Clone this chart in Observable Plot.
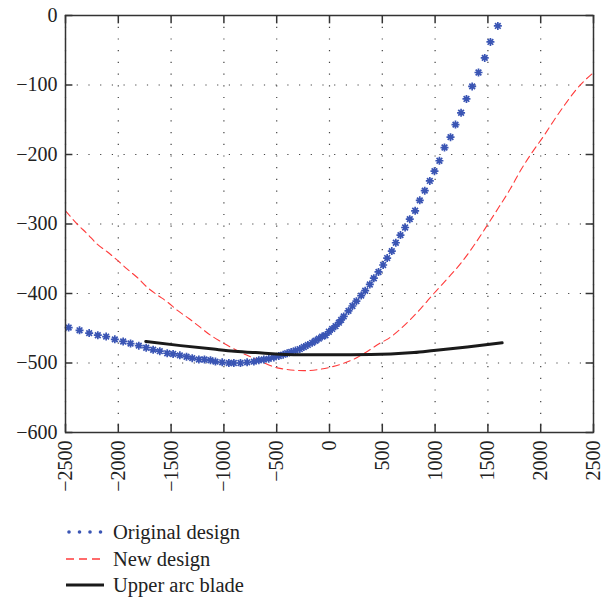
<!DOCTYPE html>
<html>
<head>
<meta charset="utf-8">
<script src="https://cdn.jsdelivr.net/npm/d3@7"></script>
<script src="https://cdn.jsdelivr.net/npm/@observablehq/plot@0.6"></script>
<style>
  html, body { margin: 0; padding: 0; background: #fff; }
  body { width: 602px; height: 601px; overflow: hidden; font-family: "Liberation Serif", "DejaVu Serif", serif; }
  #chart svg { overflow: visible; }
  #legend { margin-left: 66px; margin-top: 14px; font-size: 20.5px; color: #222; line-height: 26.5px; }
  .item { display: flex; align-items: center; }
  .item svg { margin-right: 7px; }
</style>
</head>
<body>
<div id="chart"></div>
<div id="legend"></div>
<script>
const xTicks = [-2500, -2000, -1500, -1000, -500, 0, 500, 1000, 1500, 2000, 2500];
const yTicks = [0, -100, -200, -300, -400, -500, -600];
const seriesNames = ["Original design", "New design", "Upper arc blade"];

const originalX = [-2470,-2367,-2276,-2194,-2115,-2033,-1954,-1884,-1806,-1736,-1670,-1607,-1537,-1481,-1417,-1354,-1300,-1237,-1184,-1127,-1080,-1016,-953,-906,-843,-780,-716,-669,-622,-575,-527,-480,-439,-401,-363,-322,-281,-243,-205,-164,-133,-101,-70,-38,-6,25,57,89,110,135,180,217,255,300,338,382,420,464,508,546,590,628,672,716,760,811,855,902,950,994,1041,1089,1146,1193,1246,1297,1351,1411,1470,1524,1594];
const originalY = [-449,-453,-457,-460,-462,-466,-469,-472,-475,-478,-481,-483,-486,-487,-489,-491,-493,-495,-495,-496,-498,-499,-500,-500,-500,-499,-498,-496,-495,-494,-492,-490,-488,-486,-484,-482,-480,-477,-474,-471,-468,-465,-462,-460,-455,-451,-447,-442,-438,-433,-425,-418,-411,-403,-396,-387,-378,-369,-359,-349,-339,-327,-316,-305,-293,-281,-266,-252,-238,-224,-209,-190,-175,-157,-140,-120,-102,-82,-61,-38,-15];

const newX = [-2500,-2390,-2295,-2200,-2105,-2010,-1915,-1820,-1727,-1632,-1537,-1443,-1332,-1238,-1127,-1030,-938,-780,-670,-495,-243,9,262,372,483,546,672,862,988,1114,1241,1367,1493,1603,1714,1809,1919,2030,2125,2235,2345,2500];
const newY = [-281,-300,-314,-329,-340,-352,-365,-377,-391,-402,-412,-424,-436,-447,-460,-469,-477,-489,-496,-507,-511,-506,-492,-482,-471,-466,-451,-422,-400,-379,-357,-331,-302,-276,-249,-223,-197,-173,-151,-127,-105,-82];

const bladeX = [-1740,-1410,-1100,-900,-700,-275,200,580,800,988,1304,1635];
const bladeY = [-469,-475,-480,-483,-485,-488,-488,-487,-485,-482,-477,-471];

const colors = ["#3a55b4", "#ff3b3b", "#1a1a1a"];

const original = originalX.map((x, i) => ({x, y: originalY[i]}));
const newer = newX.map((x, i) => ({x, y: newY[i]}));
const blade = bladeX.map((x, i) => ({x, y: bladeY[i]}));
const fmt = d => (d < 0 ? "\u2212" + Math.abs(d) : String(d));

// 8-point asterisk marker (like MATLAB '*')
const star8 = {
  draw(context, size) {
    const r = Math.sqrt(size / Math.PI);
    const d = r * Math.SQRT1_2;
    context.moveTo(-r, 0); context.lineTo(r, 0);
    context.moveTo(0, -r); context.lineTo(0, r);
    context.moveTo(-d, -d); context.lineTo(d, d);
    context.moveTo(-d, d); context.lineTo(d, -d);
  }
};

const chart = Plot.plot({
  width: 602,
  height: 505,
  marginTop: 15,
  marginLeft: 65,
  marginRight: 9,
  marginBottom: 73,
  style: {fontFamily: "Liberation Serif, DejaVu Serif, serif", fontSize: "20px", color: "#222", background: "#fff", overflow: "visible"},
  x: {type: "linear", domain: [-2500, 2500], ticks: xTicks},
  y: {type: "linear", domain: [-600, 0], ticks: yTicks},
  marks: [
    Plot.gridX(xTicks, {stroke: "#444", strokeOpacity: 1, strokeWidth: 1.2, strokeDasharray: "1.2,10.5"}),
    Plot.gridY(yTicks, {stroke: "#444", strokeOpacity: 1, strokeWidth: 1.2, strokeDasharray: "1.2,10.5"}),
    Plot.line(newer, {x: "x", y: "y", stroke: colors[1], strokeWidth: 1.1, strokeDasharray: "7,4.5", curve: "monotone-x"}),
    Plot.dot(original, {x: "x", y: "y", symbol: star8, r: 4, stroke: colors[0], strokeWidth: 1.7, fill: "none"}),
    Plot.line(blade, {x: "x", y: "y", stroke: colors[2], strokeWidth: 3, curve: "monotone-x"}),
    Plot.frame({stroke: "#333", strokeWidth: 1.5}),
    Plot.axisX(xTicks, {anchor: "bottom", tickSize: 0, tickPadding: 8, tickRotate: -90, label: null, tickFormat: fmt, fill: "#222"}),
    Plot.axisY(yTicks, {anchor: "left", tickSize: 0, tickPadding: 8, label: null, tickFormat: fmt, fill: "#222"}),
    Plot.ruleX(xTicks, {x: d => d, y1: -600, y2: -588, stroke: "#333", strokeWidth: 1.5}),
    Plot.ruleX(xTicks, {x: d => d, y1: 0, y2: -12, stroke: "#333", strokeWidth: 1.5}),
    Plot.ruleY(yTicks, {y: d => d, x1: -2500, x2: -2430, stroke: "#333", strokeWidth: 1.5}),
    Plot.ruleY(yTicks, {y: d => d, x1: 2500, x2: 2430, stroke: "#333", strokeWidth: 1.5})
  ]
});
document.getElementById("chart").appendChild(chart);

const legend = document.getElementById("legend");
const swatches = [
  `<svg width="40" height="14"><g fill="${colors[0]}"><circle cx="3" cy="7" r="1.8"/><circle cx="13.5" cy="7" r="1.8"/><circle cx="24" cy="7" r="1.8"/><circle cx="34.5" cy="7" r="1.8"/></g></svg>`,
  `<svg width="40" height="14"><line x1="0" x2="38" y1="7" y2="7" stroke="${colors[1]}" stroke-width="1.3" stroke-dasharray="8,5"/></svg>`,
  `<svg width="40" height="14"><line x1="0" x2="38" y1="7" y2="7" stroke="${colors[2]}" stroke-width="3"/></svg>`
];
seriesNames.forEach((name, i) => {
  const div = document.createElement("div");
  div.className = "item";
  div.innerHTML = swatches[i] + `<span>${name}</span>`;
  legend.appendChild(div);
});
</script>
</body>
</html>
